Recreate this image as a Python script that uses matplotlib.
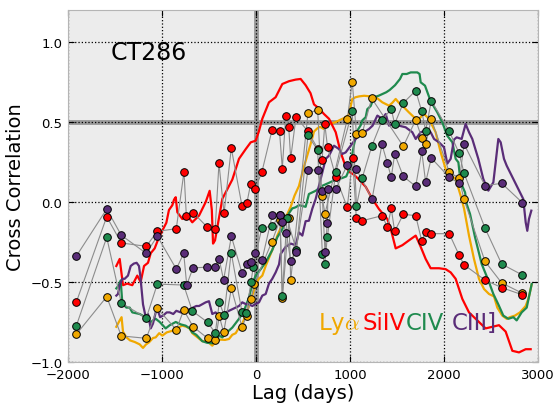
import matplotlib
matplotlib.use("Agg")
import matplotlib.pyplot as plt

# ICCF curves: (lag in days, correlation)
lya_iccf = [(-1486, -0.78), (-1450, -0.74), (-1430, -0.72), (-1415, -0.81), (-1380, -0.845), (-1340, -0.865),
            (-1290, -0.875), (-1237, -0.89), (-1202, -0.912), (-1170, -0.89), (-1138, -0.877), (-1096, -0.85),
            (-1067, -0.846), (-1030, -0.82), (-996, -0.835), (-950, -0.815), (-890, -0.805), (-848, -0.79),
            (-784, -0.773), (-740, -0.78), (-706, -0.79), (-678, -0.82), (-635, -0.84), (-571, -0.87),
            (-520, -0.87), (-465, -0.898), (-422, -0.87), (-380, -0.86), (-330, -0.862), (-287, -0.856),
            (-252, -0.83), (-216, -0.82), (-181, -0.785), (-146, -0.76), (-110, -0.71), (-74, -0.65),
            (-56, -0.617), (-4, -0.515), (30, -0.48), (67, -0.46), (103, -0.40), (138, -0.35), (173, -0.30),
            (227, -0.21), (280, -0.14), (333, -0.075), (369, -0.03), (410, 0.04), (457, 0.10), (500, 0.20),
            (540, 0.28), (580, 0.36), (617, 0.44), (652, 0.46), (680, 0.47), (723, 0.456), (759, 0.48),
            (800, 0.49), (850, 0.50), (901, 0.515), (960, 0.53), (990, 0.55), (1024, 0.644), (1060, 0.655),
            (1096, 0.66), (1150, 0.664), (1220, 0.66), (1291, 0.648), (1344, 0.623), (1415, 0.602),
            (1450, 0.62), (1486, 0.644), (1520, 0.62), (1557, 0.602), (1627, 0.56), (1681, 0.53),
            (1734, 0.52), (1787, 0.55), (1823, 0.53), (1858, 0.498), (1911, 0.436), (1965, 0.31),
            (2018, 0.206), (2089, 0.16), (2124, 0.144), (2177, 0.04), (2213, -0.04), (2266, -0.21),
            (2319, -0.356), (2372, -0.48), (2426, -0.544), (2479, -0.575), (2532, -0.59), (2567, -0.66),
            (2620, -0.71), (2667, -0.73), (2700, -0.72), (2755, -0.71), (2808, -0.69), (2869, -0.65),
            (2900, -0.60), (2933, -0.515)]

siiv_iccf = [(-1486, -0.40), (-1450, -0.356), (-1415, -0.52), (-1370, -0.51), (-1316, -0.52), (-1263, -0.46),
             (-1227, -0.50), (-1191, -0.40), (-1149, -0.38), (-1120, -0.32), (-1078, -0.29), (-1032, -0.22),
             (-989, -0.17), (-954, -0.13), (-926, -0.05), (-890, -0.02), (-872, 0.015), (-854, 0.03),
             (-837, -0.064), (-784, -0.106), (-731, -0.085), (-678, -0.127), (-606, -0.085), (-535, 0.0),
             (-493, 0.07), (-470, -0.05), (-457, -0.26), (-436, -0.24), (-400, -0.12), (-358, 0.02),
             (-305, 0.08), (-252, 0.14), (-181, 0.27), (-110, 0.33), (-56, 0.373), (-4, 0.383), (30, 0.44),
             (67, 0.52), (138, 0.623), (209, 0.655), (280, 0.7375), (351, 0.755), (422, 0.765), (475, 0.769),
             (528, 0.73), (580, 0.68), (617, 0.61), (670, 0.585), (723, 0.55), (777, 0.52), (848, 0.436),
             (901, 0.31), (954, 0.22), (989, 0.19), (1043, 0.17), (1096, 0.14), (1167, 0.095), (1237, 0.02),
             (1308, -0.044), (1397, -0.106), (1443, -0.19), (1486, -0.29), (1557, -0.27), (1627, -0.24),
             (1699, -0.21), (1752, -0.28), (1805, -0.356), (1858, -0.414), (1947, -0.414), (2018, -0.42),
             (2071, -0.44), (2124, -0.48), (2195, -0.606), (2266, -0.69), (2372, -0.75), (2443, -0.79),
             (2514, -0.78), (2585, -0.77), (2656, -0.81), (2727, -0.93), (2798, -0.94), (2869, -0.92),
             (2922, -0.92)]

civ_iccf = [(-1486, -0.54), (-1460, -0.52), (-1440, -0.49), (-1422, -0.63), (-1380, -0.66), (-1344, -0.66),
            (-1316, -0.69), (-1237, -0.70), (-1191, -0.715), (-1167, -0.73), (-1120, -0.75), (-1067, -0.73),
            (-1024, -0.75), (-961, -0.79), (-918, -0.77), (-854, -0.75), (-800, -0.765), (-748, -0.773),
            (-706, -0.79), (-678, -0.815), (-635, -0.83), (-571, -0.87), (-520, -0.88), (-465, -0.883),
            (-422, -0.867), (-394, -0.835), (-358, -0.846), (-300, -0.81), (-252, -0.785), (-181, -0.73),
            (-128, -0.68), (-74, -0.596), (-39, -0.5125), (-4, -0.46), (50, -0.42), (103, -0.377),
            (173, -0.30), (227, -0.22), (280, -0.17), (316, -0.117), (351, -0.07), (386, -0.04),
            (422, -0.033), (457, -0.02), (528, -0.03), (563, 0.05), (635, 0.07), (700, 0.10), (777, 0.12),
            (850, 0.14), (918, 0.15), (960, 0.16), (989, 0.20), (1007, 0.24), (1043, 0.36), (1078, 0.446),
            (1114, 0.48), (1131, 0.51), (1167, 0.53), (1184, 0.58), (1220, 0.60), (1255, 0.654),
            (1308, 0.665), (1386, 0.686), (1422, 0.70), (1479, 0.73), (1532, 0.769), (1557, 0.80),
            (1603, 0.80), (1646, 0.81), (1716, 0.81), (1740, 0.80), (1752, 0.748), (1798, 0.727),
            (1858, 0.63), (1929, 0.56), (1982, 0.498), (2035, 0.414), (2089, 0.373), (2124, 0.27),
            (2153, 0.248), (2177, 0.123), (2224, 0.06), (2241, -0.0125), (2277, -0.075), (2330, -0.22),
            (2401, -0.3875), (2472, -0.49), (2525, -0.575), (2578, -0.64), (2631, -0.71), (2684, -0.73),
            (2738, -0.72), (2773, -0.74), (2826, -0.69), (2880, -0.66), (2933, -0.5125)]

ciii_iccf = [(-1486, -0.585), (-1468, -0.575), (-1450, -0.52), (-1422, -0.48), (-1397, -0.48), (-1362, -0.46),
             (-1333, -0.40), (-1300, -0.385), (-1270, -0.38), (-1245, -0.40), (-1231, -0.46), (-1202, -0.64),
             (-1173, -0.72), (-1149, -0.70), (-1120, -0.79), (-1096, -0.76), (-1067, -0.69), (-1043, -0.68),
             (-1020, -0.72), (-989, -0.71), (-950, -0.69), (-918, -0.69), (-880, -0.70), (-848, -0.68),
             (-800, -0.69), (-748, -0.68), (-706, -0.67), (-635, -0.65), (-606, -0.65), (-535, -0.627),
             (-500, -0.62), (-465, -0.70), (-430, -0.69), (-394, -0.71), (-323, -0.69), (-252, -0.67),
             (-181, -0.65), (-146, -0.627), (-110, -0.6375), (-74, -0.64), (-39, -0.65), (-4, -0.6375),
             (32, -0.627), (67, -0.585), (103, -0.575), (138, -0.51), (173, -0.48), (209, -0.44),
             (245, -0.39), (262, -0.325), (316, -0.28), (370, -0.26), (422, -0.27), (457, -0.19),
             (493, -0.21), (528, -0.12), (563, -0.117), (600, -0.04), (635, 0.019), (670, 0.102),
             (706, 0.186), (741, 0.269), (777, 0.29), (830, 0.352), (883, 0.331), (918, 0.30), (954, 0.31),
             (1007, 0.352), (1060, 0.394), (1096, 0.414), (1149, 0.436), (1202, 0.456), (1240, 0.477),
             (1291, 0.54), (1344, 0.52), (1380, 0.55), (1415, 0.477), (1451, 0.4875), (1521, 0.477),
             (1592, 0.467), (1663, 0.436), (1699, 0.394), (1752, 0.436), (1805, 0.446), (1858, 0.436),
             (1894, 0.394), (1947, 0.373), (2000, 0.342), (2035, 0.24), (2071, 0.27), (2106, 0.39),
             (2135, 0.404), (2188, 0.394), (2230, 0.4875), (2266, 0.436), (2301, 0.394), (2365, 0.27),
             (2418, 0.144), (2472, 0.071), (2525, 0.123), (2550, 0.25), (2578, 0.394), (2603, 0.373),
             (2638, 0.27), (2667, 0.227), (2755, 0.123), (2843, 0.019), (2869, -0.127), (2886, -0.18),
             (2904, -0.106), (2929, -0.054)]

# DCF points: (lag in days, correlation)
lya_dcf = [(-1912, -0.827), (-1588, -0.592), (-1433, -0.837), (-1167, -0.852), (-1050, -0.665),
           (-848, -0.798), (-769, -0.675), (-670, -0.779), (-514, -0.852), (-433, -0.862), (-390, -0.715),
           (-344, -0.815), (-262, -0.54), (-148, -0.783), (-101, -0.71), (-53, -0.606), (-18, -0.512),
           (170, -0.247), (255, -0.112), (280, -0.60), (351, -0.102), (369, -0.49), (553, 0.555),
           (656, 0.576), (701, 0.036), (734, -0.073), (971, 0.517), (1024, 0.753), (1069, 0.422),
           (1131, 0.433), (1231, 0.648), (1567, 0.348), (1699, 0.513), (1763, 0.402), (1805, 0.36),
           (1865, 0.519), (2056, 0.186), (2160, 0.15), (2213, 0.016), (2436, -0.371), (2614, -0.506),
           (2833, -0.57)]

siiv_dcf = [(-1912, -0.627), (-1588, -0.092), (-1433, -0.256), (-1167, -0.277), (-1050, -0.183),
            (-848, -0.167), (-766, 0.19), (-741, -0.088), (-669, -0.066), (-517, -0.158), (-434, -0.167),
            (-394, 0.242), (-340, -0.071), (-263, 0.337), (-148, -0.028), (-97, -0.005), (-56, 0.115),
            (-9, 0.083), (62, 0.186), (172, 0.453), (250, 0.442), (280, 0.209), (316, 0.54), (348, 0.47),
            (369, 0.272), (426, 0.533), (551, 0.442), (658, 0.332), (703, 0.264), (732, 0.486),
            (761, 0.343), (848, 0.158), (971, -0.034), (1028, 0.272), (1067, -0.098), (1131, -0.117),
            (1344, -0.085), (1397, -0.158), (1439, -0.04), (1475, -0.184), (1567, -0.077), (1699, -0.085),
            (1763, -0.244), (1805, -0.19), (1865, -0.198), (2056, -0.198), (2160, -0.331), (2213, -0.392),
            (2436, -0.488), (2614, -0.535), (2833, -0.58)]

civ_dcf = [(-1912, -0.775), (-1588, -0.221), (-1433, -0.631), (-1167, -0.725), (-1050, -0.513),
           (-769, -0.519), (-678, -0.681), (-514, -0.752), (-433, -0.819), (-390, -0.627), (-340, -0.707),
           (-264, -0.316), (-149, -0.689), (-103, -0.696), (-53, -0.498), (-29, -0.405), (61, -0.163),
           (172, -0.151), (255, -0.081), (280, -0.588), (328, -0.101), (429, -0.299), (553, 0.416),
           (656, 0.324), (706, -0.325), (730, -0.388), (759, -0.22), (848, 0.186), (1024, 0.567),
           (1069, -0.024), (1131, 0.152), (1231, 0.348), (1344, 0.514), (1439, 0.581), (1475, 0.488),
           (1567, 0.619), (1699, 0.696), (1763, 0.567), (1805, 0.446), (1865, 0.633), (2056, 0.442),
           (2160, 0.306), (2213, 0.181), (2436, -0.163), (2614, -0.388), (2833, -0.456)]

ciii_dcf = [(-1912, -0.339), (-1588, -0.044), (-1433, -0.208), (-1167, -0.321), (-1050, -0.213),
            (-848, -0.419), (-769, -0.321), (-737, -0.518), (-670, -0.412), (-517, -0.407), (-434, -0.407),
            (-392, -0.357), (-345, -0.487), (-262, -0.215), (-148, -0.446), (-101, -0.387), (-53, -0.373),
            (-11, -0.319), (65, -0.36), (173, -0.083), (255, -0.081), (280, -0.127), (322, -0.191),
            (369, -0.369), (425, -0.312), (553, 0.2), (656, 0.2), (703, 0.069), (734, -0.314),
            (759, -0.131), (766, 0.082), (848, 0.079), (971, 0.232), (1069, 0.204), (1235, 0.019),
            (1340, 0.36), (1397, 0.244), (1439, 0.154), (1475, 0.3), (1567, 0.16), (1699, 0.098),
            (1763, 0.317), (1805, 0.123), (1865, 0.275), (2056, 0.154), (2160, 0.117), (2213, 0.363),
            (2436, 0.102), (2614, 0.117), (2833, -0.004)]

line_names = [r"Ly$\alpha$", "SiIV", "CIV", "CIII]"]
line_colors = ["#f0a800", "#ff0000", "#1f8a4e", "#5a2d78"]
x_ticks = [-2000, -1000, 0, 1000, 2000, 3000]
y_ticks = [-1.0, -0.5, 0.0, 0.5, 1.0]

plt.rcParams["mathtext.fontset"] = "cm"
plt.rcParams["font.family"] = "DejaVu Sans"

fig = plt.figure(figsize=(5.59, 4.06), dpi=100)
ax = fig.add_axes([68 / 559, 43 / 406, 470 / 559, 352 / 406])
ax.set_facecolor("#ececec")
ax.set_axisbelow(True)
ax.grid(True, color="black", linestyle=":", linewidth=0.9)

ax.axhline(0.5, color="#9a9a9a", lw=3.5, zorder=0.4)
ax.axvline(0, color="#9a9a9a", lw=3.5, zorder=0.4)

iccf_sets = [lya_iccf, siiv_iccf, civ_iccf, ciii_iccf]
dcf_sets = [lya_dcf, siiv_dcf, civ_dcf, ciii_dcf]

for curve, color in zip(iccf_sets, line_colors):
    xs, ys = zip(*curve)
    ax.plot(xs, ys, color=color, lw=1.6, zorder=2)

for pts, color in zip(dcf_sets, line_colors):
    xs, ys = zip(*pts)
    ax.plot(xs, ys, color="#8c8c8c", lw=0.8, zorder=2.5)
    ax.plot(xs, ys, linestyle="none", marker="o", ms=5.5, mfc=color,
            mec="black", mew=0.7, zorder=3)

ax.set_xlim(-2000, 3000)
ax.set_ylim(-1.0, 1.2)
ax.set_xticks(x_ticks)
ax.set_yticks(y_ticks)
ax.tick_params(direction="in", length=4, width=0.8, top=True, right=True,
               labelsize=9.5, pad=4)
for s in ax.spines.values():
    s.set_color("#b5b5b5")

ax.set_xlabel("Lag (days)", fontsize=14, labelpad=2)
ax.set_ylabel("Cross Correlation", fontsize=14, labelpad=4)

ax.text(0.0915, 0.861, "CT286", transform=ax.transAxes, fontsize=17,
        ha="left", va="baseline")

label_x = [0.532, 0.626, 0.719, 0.817]
for name, color, lx in zip(line_names, line_colors, label_x):
    ax.text(lx, 0.094, name, transform=ax.transAxes, fontsize=16.5,
            color=color, ha="left", va="baseline", zorder=5)

fig.savefig("out.png", dpi=100)
